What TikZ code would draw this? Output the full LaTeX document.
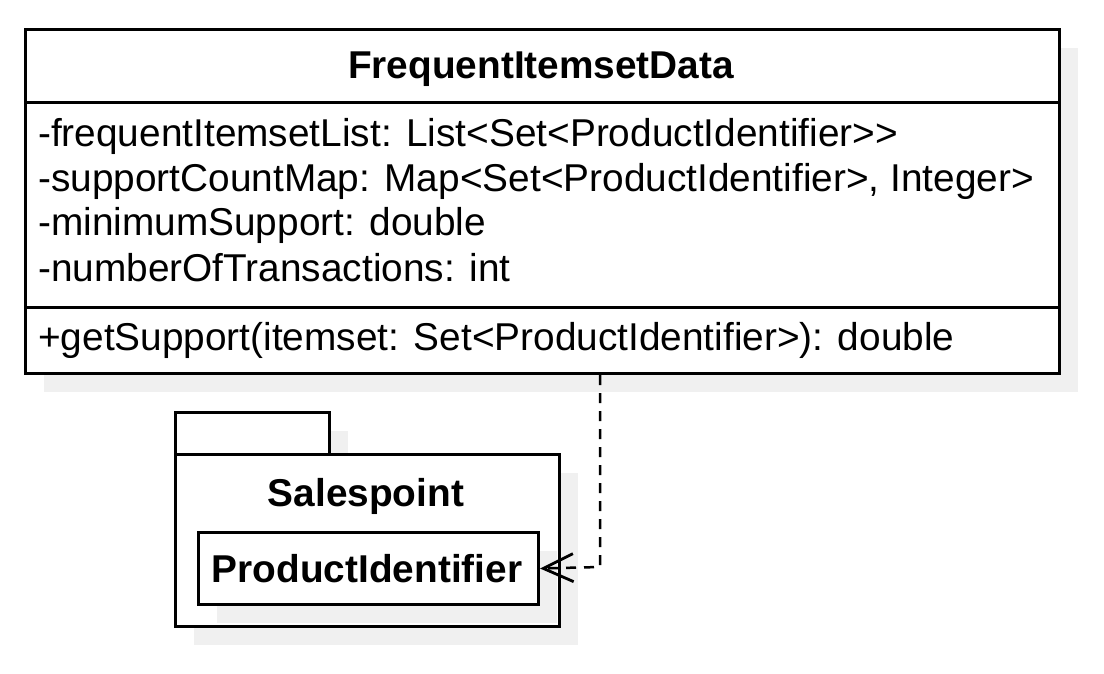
\documentclass[tikz,border=0pt]{standalone}
\usepackage{fontspec}
\setmainfont{Liberation Sans}
\usetikzlibrary{arrows.meta}
\definecolor{shadowgray}{HTML}{F0F0F0}
\begin{document}
\begin{tikzpicture}[x=1pt,y=-1pt,
  shadow/.style={fill=shadowgray,draw=none},
  box/.style={draw=black,line width=3pt,fill=white,inner sep=0pt},
  txt/.style={inner sep=0pt,font=\fontsize{38.8pt}{45pt}\selectfont},
  btxt/.style={txt,font=\fontsize{38.8pt}{45pt}\selectfont\bfseries},
  dep/.style={line width=2.5pt,dash pattern=on 10pt off 8pt,-{Straight Barb[length=30pt,width=28pt,line width=2.8pt]}}]
\useasboundingbox (0,0) rectangle (1104,674);
% shadows of class
\fill[shadow] (44,48) rectangle (1078,392);
% class box
\node[box,minimum width=1034pt,minimum height=344pt,anchor=north west] (cls) at (24,28) {};
\draw[line width=3pt] (24,102.5) -- (1058,102.5);
\draw[line width=3pt] (24,307) -- (1058,307);
\node[btxt,anchor=base] (title) at (541,79) {FrequentItemsetData};
\node[txt,anchor=base west] (a1) at (38,147) {-frequentItemsetList: List<Set<ProductIdentifier>{}>};
\node[txt,anchor=base west] (a2) at (38,192) {-supportCountMap: Map<Set<ProductIdentifier>, Integer>};
\node[txt,anchor=base west] (a3) at (38,236) {-minimumSupport: double};
\node[txt,anchor=base west] (a4) at (38,281) {-numberOfTransactions: int};
\node[txt,anchor=base west] (m1) at (38,350) {+getSupport(itemset: Set<ProductIdentifier>): double};
% package
\fill[shadow] (194,431) rectangle (348,473);
\fill[shadow] (194,473) rectangle (578,645);
\node[box,minimum width=154pt,minimum height=42pt,anchor=north west] (tab) at (174,411) {};
\node[box,minimum width=384pt,minimum height=172pt,anchor=north west] (pkg) at (174,453) {};
\node[btxt,anchor=base] (pname) at (366,506) {Salespoint};
\fill[shadow] (217,551) rectangle (557,623);
\node[box,minimum width=340pt,minimum height=72pt,anchor=north west] (pi) at (197,531) {};
\node[btxt,anchor=base] (piname) at (367,582) {ProductIdentifier};
% dependency
\coordinate (bend) at (600,567);
\draw[dep] (cls.south -| bend) -- (bend) -- (pi.east);
\end{tikzpicture}
\end{document}
